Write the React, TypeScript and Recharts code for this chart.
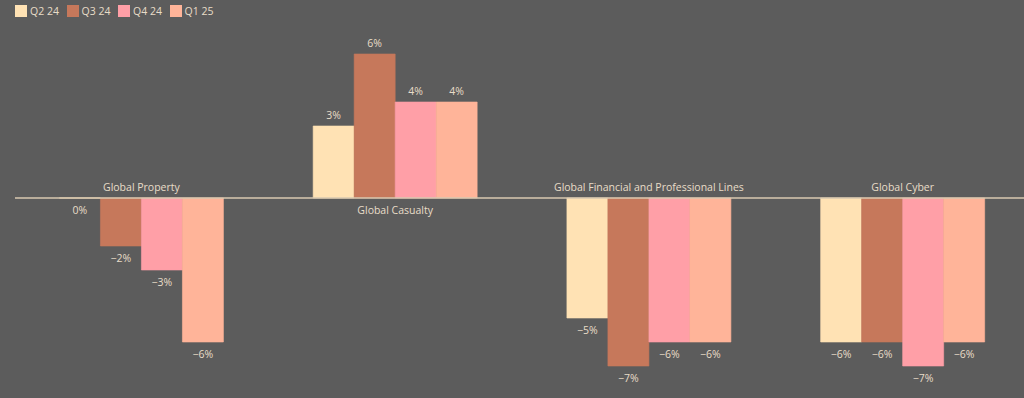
import React from 'react';
import { BarChart, Bar, XAxis, YAxis, ReferenceLine, LabelList } from 'recharts';

const categories = [
  'Global Property',
  'Global Casualty',
  'Global Financial and Professional Lines',
  'Global Cyber',
];
const seriesNames = ['Q2 24', 'Q3 24', 'Q4 24', 'Q1 25'];
const q2_24 = [0, 3, -5, -6];
const q3_24 = [-2, 6, -7, -6];
const q4_24 = [-3, 4, -6, -7];
const q1_25 = [-6, 4, -6, -6];

const colors = ['#ffe2b4', '#c6785b', '#ff9fa7', '#ffb499'];
const keys = ['q2_24', 'q3_24', 'q4_24', 'q1_25'];

const data = categories.map((name, i) => ({
  name,
  q2_24: q2_24[i],
  q3_24: q3_24[i],
  q4_24: q4_24[i],
  q1_25: q1_25[i],
}));

const BG = '#5c5c5c';
const TEXT = '#e8dcc8';
const FONT = '"Open Sans", sans-serif';
const FS = 10.5;

const fmt = (v: number) => (v === 0 ? '0%' : v < 0 ? `\u2212${Math.abs(v)}%` : `${v}%`);

const box = (props: any) => {
  const vb = props.viewBox || {};
  const x = vb.x ?? props.x;
  const y = vb.y ?? props.y;
  const w = vb.width ?? props.width;
  const h = vb.height ?? props.height;
  return { x, w, top: Math.min(y, y + h), bottom: Math.max(y, y + h) };
};

const ValueLabel = (props: any) => {
  const { value } = props;
  const { x, w, top, bottom } = box(props);
  const above = value > 0;
  return (
    <text
      x={x + w / 2}
      y={above ? top - 11 : bottom + 12}
      textAnchor="middle"
      dominantBaseline="central"
      fill={TEXT}
      fontSize={FS}
      fontFamily={FONT}
    >
      {fmt(value)}
    </text>
  );
};

// category name sits on the zero line, above it unless the group goes up
const CategoryLabel = (props: any) => {
  const { index, value } = props;
  const { x, top, bottom } = box(props);
  const v = q4_24[index];
  const zeroY = v > 0 ? bottom : top;
  const up = [q2_24, q3_24, q4_24, q1_25].some((s) => s[index] > 0);
  return (
    <text
      x={x}
      y={up ? zeroY + 12 : zeroY - 11}
      textAnchor="middle"
      dominantBaseline="central"
      fill={TEXT}
      fontSize={FS}
      fontFamily={FONT}
    >
      {value}
    </text>
  );
};

export default function App() {
  return (
    <div
      style={{
        position: 'absolute',
        left: 0,
        top: 0,
        width: 1024,
        height: 398,
        background: BG,
        overflow: 'hidden',
        fontFamily: FONT,
      }}
    >
      <div style={{ position: 'absolute', left: 15, top: 5, display: 'flex' }}>
        {seriesNames.map((s, i) => (
          <div key={s} style={{ display: 'flex', alignItems: 'center', width: 51.5, height: 12 }}>
            <div style={{ width: 12, height: 12, background: colors[i] }} />
            <span style={{ marginLeft: 3, fontSize: FS, color: TEXT, lineHeight: '12px' }}>{s}</span>
          </div>
        ))}
      </div>
      <BarChart
        width={1040}
        height={398}
        data={data}
        margin={{ top: 54, right: 10, bottom: 32, left: 15 }}
        barCategoryGap="17.5%"
        barGap={0}
      >
        <XAxis dataKey="name" hide />
        <YAxis domain={[-7, 6]} hide />
        {keys.map((k, i) => (
          <Bar
            key={k}
            dataKey={k}
            name={seriesNames[i]}
            fill={colors[i]}
            stroke={colors[i]}
            strokeOpacity={0.6}
            minPointSize={0.01}
            isAnimationActive={false}
          >
            <LabelList dataKey={k} content={ValueLabel} />
            {k === 'q4_24' && <LabelList dataKey="name" content={CategoryLabel} />}
          </Bar>
        ))}
        <ReferenceLine y={0} stroke="#d8c8b0" strokeWidth={1.5} />
      </BarChart>
    </div>
  );
}
